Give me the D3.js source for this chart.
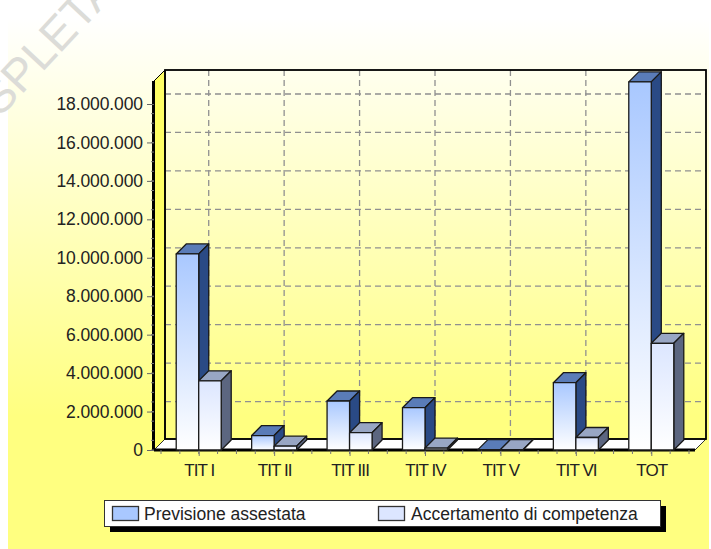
<!DOCTYPE html>
<html><head><meta charset="utf-8">
<script src="https://cdn.jsdelivr.net/npm/d3@7/dist/d3.min.js"></script>
<style>html,body{margin:0;padding:0;background:#fff}svg{display:block}text{font-family:"Liberation Sans",Arial,sans-serif;fill:#222}</style>
</head><body><svg id="c" width="711" height="549"></svg>
<script>
const categories=["TIT I","TIT II","TIT III","TIT IV","TIT V","TIT VI","TOT"];
const previsione=[10200000,750000,2550000,2200000,20000,3500000,19150000];
const accertamento=[3600000,200000,900000,100000,20000,650000,5550000];
const yTicks=[0,2000000,4000000,6000000,8000000,10000000,12000000,14000000,16000000,18000000];
const seriesNames=["Previsione assestata","Accertamento di competenza"];

const W=711,H=549,dx=11,dy=11,bd=10;
const svg=d3.select("#c");
const defs=svg.append("defs");
function grad(id,stops){const g=defs.append("linearGradient").attr("id",id).attr("x1",0).attr("y1",0).attr("x2",0).attr("y2",1);
 stops.forEach(([o,c])=>g.append("stop").attr("offset",o).attr("stop-color",c));}
grad("bg",[[0,"#ffffff"],[0.75,"#ffff80"],[1,"#ffff80"]]);
grad("b1",[[0,"#a9c8ff"],[1,"#ffffff"]]);
grad("b2",[[0,"#dce6ff"],[1,"#ffffff"]]);

svg.append("rect").attr("x",8).attr("y",18).attr("width",W-10).attr("height",H-18).attr("fill","url(#bg)");

// watermark
svg.append("text").attr("transform","translate(0,118) rotate(-47)").style("font-size","46px").style("fill","#dcdcd8").text("SPLETA");

const x=d3.scaleBand().domain(categories).range([161,689]);
const y=d3.scaleLinear().domain([0,18000000]).range([450,104]);
const fmt=v=>d3.format(",")(v).replace(/,/g,".");
const x0=154,x1=695,yB=y(0),yT=70+dy;
const xc=c=>x(c)+x.bandwidth()/2;

// side wall
svg.append("path").attr("d",`M${x0},${yB}L${x0+dx},${yB-dy}L${x0+dx},${yT-dy}L${x0},${yT}Z`).attr("fill","#ffff66").attr("stroke","#000").attr("stroke-width",1);
// floor
svg.append("path").attr("d",`M${x0},${yB}L${x0+dx},${yB-dy}L${x1+dx},${yB-dy}L${x1},${yB}Z`).attr("fill","#fff").attr("stroke","#333");
// grid
const grid=svg.append("g").attr("stroke","#909090").attr("stroke-width",1.3).attr("stroke-dasharray","6 4");
yTicks.slice(1).forEach(t=>grid.append("line").attr("x1",x0+dx).attr("x2",x1+dx).attr("y1",y(t)-10).attr("y2",y(t)-10));
categories.forEach(c=>grid.append("line").attr("x1",xc(c)+10).attr("x2",xc(c)+10).attr("y1",yT-dy).attr("y2",yB-dy));
// back wall
svg.append("rect").attr("x",x0+dx).attr("y",yT-dy).attr("width",x1-x0).attr("height",yB-yT).attr("fill","none").attr("stroke","#000").attr("stroke-width",1.8);

// axes
svg.append("line").attr("x1",x0-.5).attr("x2",x0-.5).attr("y1",yT).attr("y2",yB).attr("stroke","#000").attr("stroke-width",3);
svg.append("line").attr("x1",x0).attr("x2",x1).attr("y1",yB).attr("y2",yB).attr("stroke","#000").attr("stroke-width",3);
const yAxis=d3.axisLeft(y).tickValues(yTicks).tickFormat(fmt).tickSize(7).tickPadding(4);
const gy=svg.append("g").attr("transform",`translate(${x0},0)`).call(yAxis);
gy.select(".domain").remove();
gy.selectAll("line").attr("stroke","#666");
gy.selectAll("text").style("font-size","17.5px").style("letter-spacing","-0.1px");
svg.append("g").attr("stroke","#777").selectAll("line").data(d3.range(0,18000000,500000)).join("line")
 .attr("x1",x0-3).attr("x2",x0).attr("y1",d=>y(d)).attr("y2",d=>y(d));

const xAxis=d3.axisBottom(d3.scalePoint().domain(categories).range([xc(categories[0]),xc(categories[6])])).tickSize(6).tickPadding(8);
const gx=svg.append("g").attr("transform",`translate(0,${yB})`).call(xAxis);
gx.select(".domain").remove();
gx.selectAll("line").attr("stroke","#777");
gx.selectAll("text").style("font-size","17px").style("letter-spacing","-0.9px").attr("dy","0.72em");
svg.append("g").attr("stroke","#777").selectAll("line").data(d3.range(0,29)).join("line")
 .attr("x1",i=>161+i*x.bandwidth()/4).attr("x2",i=>161+i*x.bandwidth()/4).attr("y1",yB).attr("y2",yB+4);

// bars
const bw=22.5;
function bar(bx,v,fill,top,side){
 const t=y(v),g=svg.append("g").attr("stroke","#1a1a1a").attr("stroke-width",1.3).attr("stroke-linejoin","round");
 g.append("path").attr("d",`M${bx},${t}L${bx+bd},${t-bd}L${bx+bw+bd},${t-bd}L${bx+bw},${t}Z`).attr("fill",top);
 g.append("path").attr("d",`M${bx+bw},${t}L${bx+bw+bd},${t-bd}L${bx+bw+bd},${yB-bd}L${bx+bw},${yB}Z`).attr("fill",side);
 g.append("rect").attr("x",bx).attr("y",t).attr("width",bw).attr("height",Math.max(0,yB-t)).attr("fill",fill);
}
categories.forEach((c,i)=>{
 bar(xc(c)-bw,previsione[i],"url(#b1)","#5a7cb8","#2a4a85");
 bar(xc(c),accertamento[i],"url(#b2)","#98a6c4","#5c6680");
});

// legend
svg.append("rect").attr("x",110).attr("y",506).attr("width",556).attr("height",26).attr("fill","#000");
svg.append("rect").attr("x",104.5).attr("y",500.5).attr("width",556).attr("height",26).attr("fill","#fff").attr("stroke","#333");
[[112,"#a9c8ff",seriesNames[0],144],[378,"#dce6ff",seriesNames[1],411]].forEach(([lx,col,t,tx])=>{
 svg.append("rect").attr("x",lx+.5).attr("y",506.5).attr("width",26).attr("height",14).attr("fill",col).attr("stroke","#333").attr("stroke-width",1.3);
 svg.append("text").attr("x",tx).attr("y",520).style("font-size","17.5px").text(t);
});
</script></body></html>
